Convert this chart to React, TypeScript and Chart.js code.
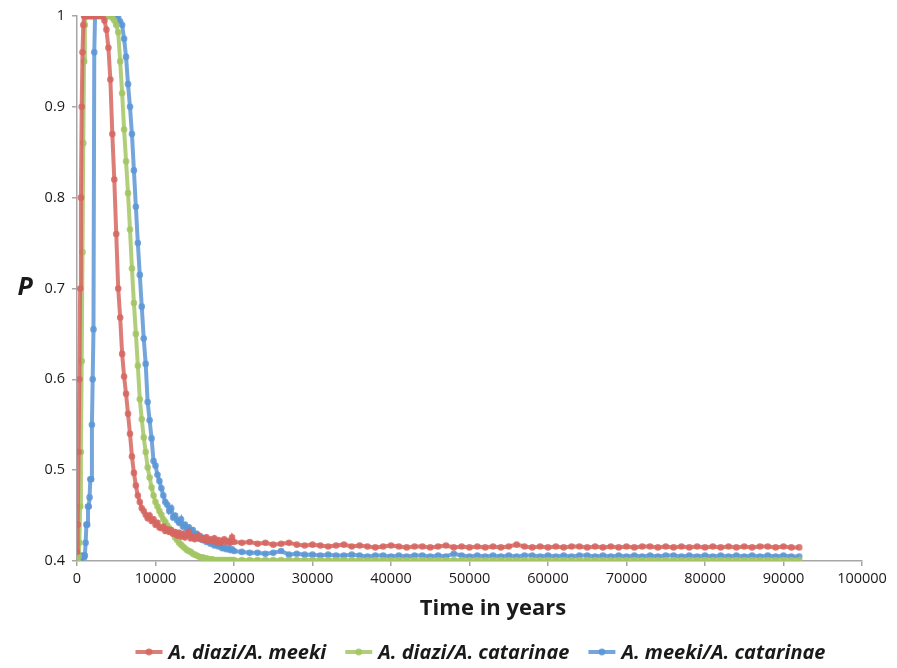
import React, { useEffect, useRef } from "react";
import { Chart, registerables } from "chart.js";

Chart.register(...registerables);

const FONT = "'Open Sans', 'DejaVu Sans', sans-serif";
const AXIS_COLOR = "#a6a6a6";
const TEXT_COLOR = "#1a1a1a";

const seriesNames = ["A. diazi/A. meeki", "A. diazi/A. catarinae", "A. meeki/A. catarinae"];
const seriesColors = ["rgba(214,102,96,0.85)", "rgba(163,198,100,0.85)", "rgba(92,150,214,0.85)"];

const xTicks = [0, 10000, 20000, 30000, 40000, 50000, 60000, 70000, 80000, 90000, 100000];
const yTicks = [0.4, 0.5, 0.6, 0.7, 0.8, 0.9, 1];

const xTitle = "Time in years";
const yTitle = "P";

// time in years
const times = [
  0, 100, 200, 300, 400, 500, 600, 700, 800, 900,
  1000, 1100, 1200, 1300, 1400, 1500, 1600, 1700, 1800, 1900,
  2000, 2100, 2200, 2300, 2400, 2500,
  2750, 3000, 3250, 3500, 3750, 4000, 4250, 4500, 4750, 5000,
  5250, 5500, 5750, 6000, 6250, 6500, 6750, 7000, 7250, 7500,
  7750, 8000, 8250, 8500, 8750, 9000, 9250, 9500, 9750, 10000,
  10250, 10500, 10750, 11000, 11250, 11500, 11750, 12000, 12250, 12500,
  12750, 13000, 13250, 13500, 13750, 14000, 14250, 14500, 14750, 15000,
  15250, 15500, 15750, 16000, 16250, 16500, 16750, 17000, 17250, 17500,
  17750, 18000, 18250, 18500, 18750, 19000, 19250, 19500, 19750, 20000,
  21000, 22000, 23000, 24000, 25000, 26000, 27000, 28000, 29000, 30000,
  31000, 32000, 33000, 34000, 35000, 36000, 37000, 38000, 39000, 40000,
  41000, 42000, 43000, 44000, 45000, 46000, 47000, 48000, 49000, 50000,
  51000, 52000, 53000, 54000, 55000, 56000, 57000, 58000, 59000, 60000,
  61000, 62000, 63000, 64000, 65000, 66000, 67000, 68000, 69000, 70000,
  71000, 72000, 73000, 74000, 75000, 76000, 77000, 78000, 79000, 80000,
  81000, 82000, 83000, 84000, 85000, 86000, 87000, 88000, 89000, 90000,
  91000, 92000,
];

const diaziMeeki = [
  0.41, 0.44, 0.52, 0.6, 0.7, 0.8, 0.9, 0.96, 0.99, 1,
  1, 1, 1, 1, 1, 1, 1, 1, 1, 1,
  1, 1, 1, 1, 1, 1,
  1, 1, 1, 0.995, 0.985, 0.965, 0.93, 0.87, 0.82, 0.76,
  0.7, 0.668, 0.628, 0.603, 0.584, 0.562, 0.54, 0.515, 0.497, 0.483,
  0.472, 0.465, 0.458, 0.455, 0.451, 0.447, 0.45, 0.444, 0.446, 0.44,
  0.442, 0.437, 0.436, 0.438, 0.433, 0.435, 0.432, 0.434, 0.43, 0.432,
  0.428, 0.431, 0.427, 0.43, 0.426, 0.428, 0.432, 0.425, 0.427, 0.424,
  0.426, 0.428, 0.424, 0.425, 0.423, 0.426, 0.422, 0.424, 0.422, 0.425,
  0.421, 0.423, 0.42, 0.422, 0.424, 0.421, 0.422, 0.42, 0.426, 0.421,
  0.42, 0.421, 0.419, 0.42, 0.418, 0.419, 0.42, 0.418, 0.417, 0.418,
  0.417, 0.416, 0.417, 0.418, 0.416, 0.417, 0.416, 0.415, 0.416, 0.417,
  0.416, 0.415, 0.416, 0.416, 0.415, 0.416, 0.417, 0.415, 0.416, 0.415,
  0.416, 0.415, 0.416, 0.415, 0.416, 0.418, 0.416, 0.415, 0.416, 0.415,
  0.416, 0.415, 0.416, 0.416, 0.415, 0.416, 0.415, 0.416, 0.415, 0.416,
  0.415, 0.416, 0.416, 0.415, 0.416, 0.415, 0.416, 0.415, 0.416, 0.415,
  0.416, 0.415, 0.416, 0.415, 0.416, 0.415, 0.416, 0.416, 0.415, 0.416,
  0.415, 0.415,
];

const diaziCatarinae = [
  0.4, 0.4, 0.405, 0.42, 0.46, 0.52, 0.62, 0.74, 0.86, 0.95,
  0.99, 1, 1, 1, 1, 1, 1, 1, 1, 1,
  1, 1, 1, 1, 1, 1,
  1, 1, 1, 1, 1, 1, 1, 0.998, 0.995, 0.99,
  0.982, 0.95, 0.915, 0.875, 0.84, 0.805, 0.765, 0.722, 0.684, 0.65,
  0.615, 0.578, 0.556, 0.536, 0.52, 0.503, 0.492, 0.481, 0.472, 0.465,
  0.46, 0.455, 0.451, 0.446, 0.443, 0.439, 0.436, 0.432, 0.43, 0.426,
  0.423, 0.42, 0.418, 0.416, 0.414, 0.412, 0.411, 0.41, 0.408, 0.407,
  0.406, 0.405, 0.404, 0.404, 0.403, 0.403, 0.402, 0.402, 0.402, 0.401,
  0.401, 0.401, 0.401, 0.401, 0.401, 0.401, 0.401, 0.401, 0.401, 0.401,
  0.401, 0.401, 0.401, 0.401, 0.401, 0.401, 0.401, 0.401, 0.401, 0.401,
  0.401, 0.401, 0.401, 0.401, 0.401, 0.401, 0.401, 0.401, 0.401, 0.401,
  0.401, 0.401, 0.401, 0.401, 0.401, 0.401, 0.401, 0.401, 0.401, 0.401,
  0.401, 0.401, 0.401, 0.401, 0.401, 0.401, 0.401, 0.401, 0.401, 0.401,
  0.401, 0.401, 0.401, 0.401, 0.401, 0.401, 0.401, 0.401, 0.401, 0.401,
  0.401, 0.401, 0.401, 0.401, 0.401, 0.401, 0.401, 0.401, 0.401, 0.401,
  0.401, 0.401, 0.401, 0.401, 0.401, 0.401, 0.401, 0.401, 0.401, 0.401,
  0.401, 0.401,
];

const meekiCatarinae = [
  0.405, 0.404, 0.405, 0.406, 0.405, 0.404, 0.405, 0.406, 0.405, 0.404,
  0.406, 0.42, 0.44, 0.44, 0.46, 0.46, 0.47, 0.49, 0.49, 0.55,
  0.6, 0.655, 0.96, 1, 1, 1,
  1, 1, 1, 1, 1, 1, 1, 1, 1, 1,
  0.998, 0.994, 0.99, 0.975, 0.955, 0.925, 0.9, 0.87, 0.83, 0.79,
  0.75, 0.715, 0.68, 0.645, 0.617, 0.575, 0.555, 0.535, 0.51, 0.505,
  0.495, 0.488, 0.48, 0.472, 0.465, 0.462, 0.455, 0.458, 0.448, 0.45,
  0.445, 0.442, 0.446, 0.438, 0.44, 0.435, 0.437, 0.432, 0.434, 0.428,
  0.43, 0.425, 0.427, 0.423, 0.425, 0.421, 0.422, 0.419, 0.42, 0.417,
  0.418, 0.416, 0.417, 0.414, 0.415, 0.413, 0.414, 0.412, 0.413, 0.411,
  0.41, 0.409, 0.409, 0.408, 0.409, 0.411, 0.407, 0.408, 0.407, 0.407,
  0.406, 0.407, 0.406, 0.406, 0.407, 0.406, 0.405, 0.406, 0.406, 0.405,
  0.406, 0.405, 0.406, 0.406, 0.405, 0.406, 0.405, 0.408, 0.406, 0.405,
  0.406, 0.405, 0.406, 0.405, 0.406, 0.405, 0.406, 0.406, 0.405, 0.406,
  0.405, 0.406, 0.405, 0.406, 0.406, 0.405, 0.406, 0.405, 0.406, 0.405,
  0.406, 0.405, 0.406, 0.405, 0.406, 0.406, 0.405, 0.406, 0.405, 0.406,
  0.405, 0.406, 0.405, 0.406, 0.405, 0.406, 0.405, 0.406, 0.405, 0.406,
  0.405, 0.405,
];

const seriesValues = [diaziMeeki, diaziCatarinae, meekiCatarinae];

const titlesAndLegend = {
  id: "titlesAndLegend",
  afterDraw(chart: any) {
    const ctx = chart.ctx as CanvasRenderingContext2D;
    const area = chart.chartArea;
    ctx.save();
    ctx.fillStyle = TEXT_COLOR;
    ctx.textBaseline = "middle";
    // y title
    ctx.font = `italic bold 25px ${FONT}`;
    ctx.textAlign = "center";
    ctx.fillText(yTitle, 25, 288);
    // x title
    ctx.font = `bold 22px ${FONT}`;
    ctx.fillText(xTitle, area.left + (area.right - area.left) * 0.53, 609);
    // legend
    ctx.font = `italic bold 20px ${FONT}`;
    const marker = 27;
    const gap = 6;
    const itemGap = 19;
    const widths = seriesNames.map((n) => ctx.measureText(n).width);
    const total = widths.reduce((a, w) => a + marker + gap + w, 0) + itemGap * (seriesNames.length - 1);
    let x = 480.5 - total / 2;
    const y = 652;
    ctx.textAlign = "left";
    seriesNames.forEach((name, i) => {
      ctx.strokeStyle = seriesColors[i];
      ctx.lineWidth = 4;
      ctx.beginPath();
      ctx.moveTo(x, y);
      ctx.lineTo(x + marker, y);
      ctx.stroke();
      ctx.fillStyle = seriesColors[i];
      ctx.beginPath();
      ctx.arc(x + marker / 2, y, 3.4, 0, Math.PI * 2);
      ctx.fill();
      ctx.fillStyle = TEXT_COLOR;
      ctx.fillText(name, x + marker + gap, y + 1);
      x += marker + gap + widths[i] + itemGap;
    });
    ctx.restore();
  },
};

export default function App() {
  const ref = useRef<HTMLCanvasElement | null>(null);

  useEffect(() => {
    if (!ref.current) return;
    const tickFont = { family: FONT, size: 14.5 };
    const chart = new Chart(ref.current, {
      type: "line",
      data: {
        datasets: seriesNames.map((name, i) => ({
          label: name,
          data: times.map((t, j) => ({ x: t, y: seriesValues[i][j] })),
          borderColor: seriesColors[i],
          backgroundColor: seriesColors[i],
          borderWidth: 4,
          pointRadius: 3.3,
          pointBorderWidth: 0,
          pointBackgroundColor: seriesColors[i],
          tension: 0,
          fill: false,
        })),
      },
      options: {
        responsive: false,
        animation: false,
        layout: { padding: { left: 0, right: 35, top: 16, bottom: 77 } },
        plugins: {
          legend: { display: false },
          tooltip: { enabled: false },
        },
        scales: {
          x: {
            type: "linear",
            min: 0,
            max: 100000,
            afterBuildTicks: (s: any) => {
              s.ticks = xTicks.map((v) => ({ value: v }));
            },
            afterFit: (s: any) => {
              s.height = 30;
            },
            ticks: {
              autoSkip: false,
              maxRotation: 0,
              padding: 4,
              color: TEXT_COLOR,
              font: tickFont,
              callback: (v: any) => String(v),
            },
            grid: { drawOnChartArea: false, tickLength: 5, color: AXIS_COLOR, lineWidth: 1.5 },
            border: { color: AXIS_COLOR, width: 1.5 },
          },
          y: {
            type: "linear",
            min: 0.4,
            max: 1,
            afterBuildTicks: (s: any) => {
              s.ticks = yTicks.map((v) => ({ value: v }));
            },
            afterFit: (s: any) => {
              s.width = 77;
            },
            ticks: {
              padding: 7,
              color: TEXT_COLOR,
              font: tickFont,
              callback: (v: any) => String(v),
            },
            grid: { drawOnChartArea: false, tickLength: 5, color: AXIS_COLOR, lineWidth: 1.5 },
            border: { color: AXIS_COLOR, width: 1.5 },
          },
        },
      },
      plugins: [titlesAndLegend],
    });
    return () => chart.destroy();
  }, []);

  return (
    <div style={{ position: "fixed", left: 0, top: 0, width: 897, height: 668, background: "#fff" }}>
      <canvas ref={ref} width={897} height={668} style={{ width: 897, height: 668, display: "block" }} />
    </div>
  );
}
